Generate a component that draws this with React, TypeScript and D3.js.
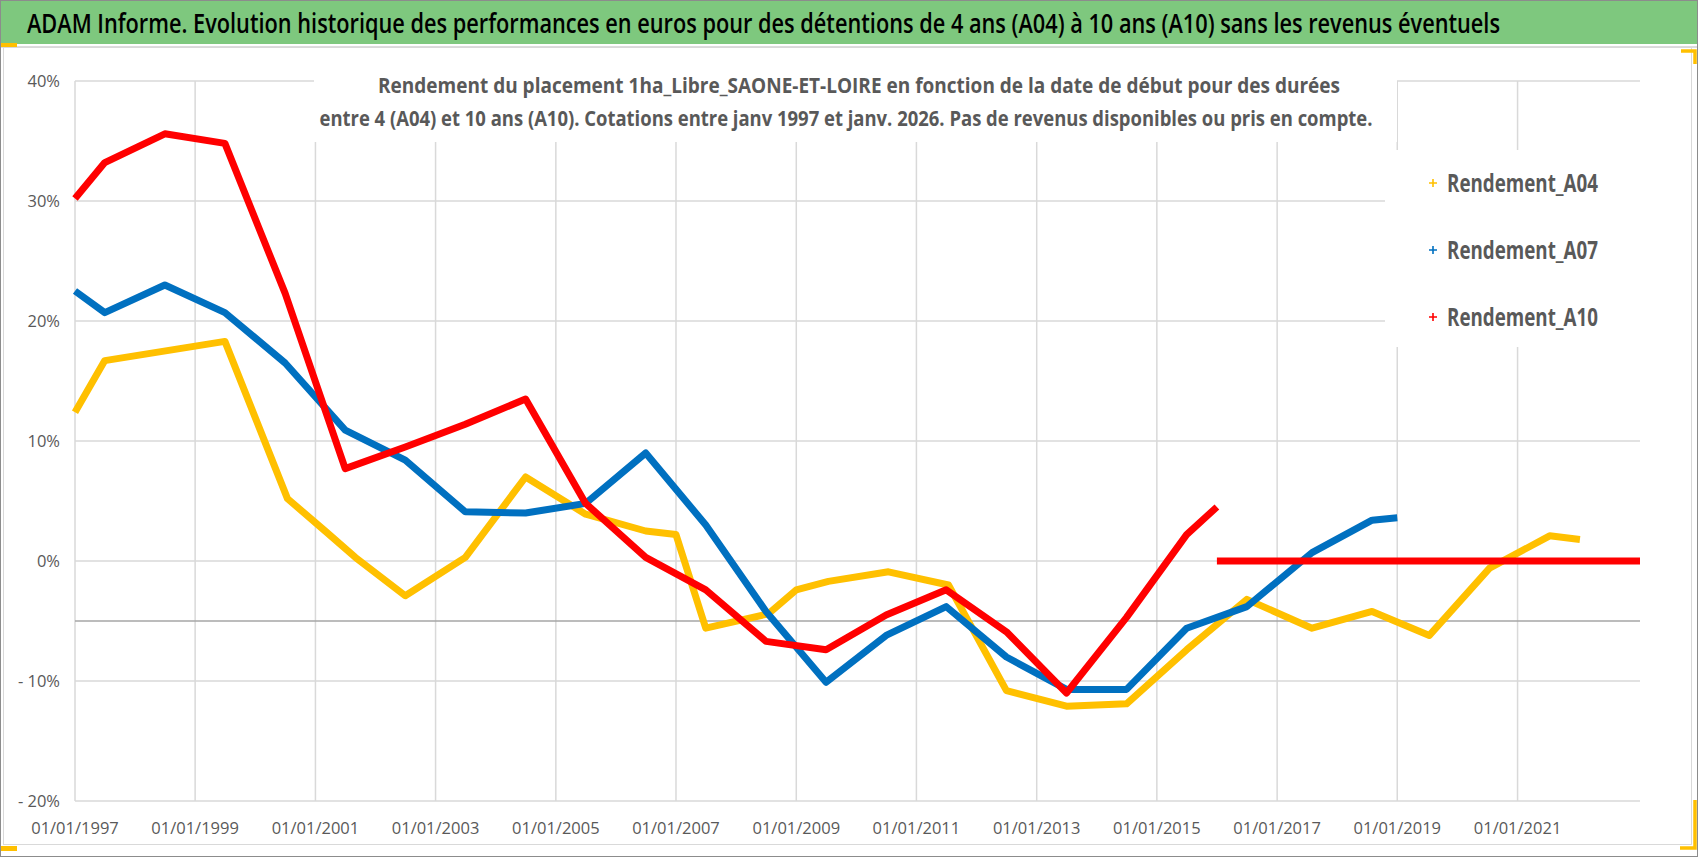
import * as d3 from 'd3'

// dates (start of holding) and yields in %
const a04Dates = ['1997-01-01', '1997-07-01', '1999-07-01', '2000-07-15', '2001-03-01', '2001-09-01', '2002-07-01', '2003-07-01', '2004-07-01', '2005-07-01', '2006-07-01', '2007-01-01', '2007-07-01', '2008-07-15', '2009-01-01', '2009-07-15', '2010-07-15', '2011-07-15', '2012-07-01', '2013-07-01', '2014-07-01', '2015-07-01', '2016-07-01', '2017-08-01', '2018-08-01', '2019-07-15', '2020-07-15', '2021-07-15', '2022-01-15']
const a04Values = [12.4, 16.7, 18.3, 5.2, 2.5, 0.3, -2.9, 0.3, 7.0, 3.9, 2.5, 2.2, -5.6, -4.4, -2.4, -1.7, -0.9, -2.0, -10.8, -12.1, -11.9, -7.4, -3.2, -5.6, -4.2, -6.2, -0.6, 2.1, 1.8]

const a07Dates = ['1997-01-01', '1997-07-01', '1998-07-01', '1999-07-01', '2000-07-01', '2001-07-01', '2002-07-01', '2003-07-01', '2004-07-01', '2005-07-01', '2006-07-01', '2007-07-01', '2008-07-01', '2009-07-01', '2010-07-01', '2011-07-01', '2012-07-01', '2013-07-01', '2014-07-01', '2015-07-01', '2016-07-01', '2017-08-01', '2018-08-01', '2019-01-01']
const a07Values = [22.5, 20.7, 23.0, 20.7, 16.5, 10.9, 8.4, 4.1, 4.0, 4.8, 9.0, 3.0, -4.2, -10.1, -6.2, -3.8, -8.0, -10.7, -10.7, -5.6, -3.8, 0.7, 3.4, 3.6]

const a10Dates = ['1997-01-01', '1997-07-01', '1998-07-01', '1999-07-01', '2000-07-01', '2001-07-01', '2002-07-01', '2003-07-01', '2004-07-01', '2005-07-01', '2006-07-01', '2007-07-01', '2008-07-01', '2009-07-01', '2010-07-01', '2011-07-01', '2012-07-01', '2013-07-01', '2014-07-01', '2015-07-01', '2016-01-01']
const a10Values = [30.2, 33.2, 35.6, 34.8, 22.3, 7.7, 9.5, 11.4, 13.5, 4.8, 0.3, -2.4, -6.7, -7.4, -4.5, -2.4, -5.9, -11.0, -4.7, 2.2, 4.5]
// A10 has no computed yield after 2016: plotted flat at 0
const a10FlatDates = ['2016-01-01', '2023-01-15']
const a10FlatValues = [0, 0]

const yTicks = [-20, -10, 0, 10, 20, 30, 40]
const xTickYears = [1997, 1999, 2001, 2003, 2005, 2007, 2009, 2011, 2013, 2015, 2017, 2019, 2021]
const refLine = -5

const seriesNames = ['Rendement_A04', 'Rendement_A07', 'Rendement_A10']
const colors = ['#FFC000', '#0070C0', '#FF0000']

const title = 'ADAM Informe. Evolution historique des performances en euros pour des détentions de 4 ans (A04) à 10 ans (A10) sans les revenus éventuels'
const subtitle1 = 'Rendement du placement 1ha_Libre_SAONE-ET-LOIRE en fonction de la date de début pour des durées'
const subtitle2 = 'entre 4 (A04) et 10 ans (A10).  Cotations entre janv 1997 et janv. 2026. Pas de revenus disponibles ou pris en compte.'

interface Pt {
  d: Date
  v: number
}
const parse = d3.timeParse('%Y-%m-%d')
const toPts = (dates: string[], vals: number[]): Pt[] =>
  dates.map((s, i) => ({ d: parse(s) as Date, v: vals[i] }))

const W = 1698
const H = 857
const font = "'Open Sans', 'Noto Sans', sans-serif"

const App = () => {
  const x = d3
    .scaleTime()
    .domain([new Date(1997, 0, 1), new Date(2023, 0, 15)])
    .range([75, 1640])
  const y = d3.scaleLinear().domain([-20, 40]).range([801, 81])

  const line = d3
    .line<Pt>()
    .x((p) => x(p.d))
    .y((p) => y(p.v))

  const series = [
    [toPts(a04Dates, a04Values)],
    [toPts(a07Dates, a07Values)],
    [toPts(a10Dates, a10Values), toPts(a10FlatDates, a10FlatValues)],
  ]

  const yFmt = (v: number) => (v < 0 ? `- ${Math.abs(v)}%` : `${v}%`)
  const [x0, x1] = x.range()

  return (
    <svg
      width={W}
      height={H}
      style={{ position: 'absolute', left: 0, top: 0, fontFamily: font }}
    >
      <rect x={0} y={0} width={W} height={H} fill="#fff" />
      {/* title band */}
      <rect x={1} y={1} width={W - 2} height={43} fill="#7EC87E" />
      <text x={27} y={33} fontSize={27} fontWeight={600} fill="#000" textLength={1473} lengthAdjust="spacingAndGlyphs">
        {title}
      </text>
      <line x1={1} x2={W - 1} y1={47} y2={47} stroke="#d0d0d0" strokeWidth={1.5} />
      {/* chart area border */}
      <rect x={3.5} y={47.5} width={1688} height={797} fill="none" stroke="#d9d9d9" />
      <rect x={0.5} y={0.5} width={W - 1} height={H - 1} fill="none" stroke="#8c8c8c" />

      {/* gridlines */}
      {yTicks.map((t) => (
        <line key={'h' + t} x1={x0} x2={x1} y1={y(t)} y2={y(t)} stroke="#d9d9d9" strokeWidth={1.5} />
      ))}
      {xTickYears.map((yr) => {
        const xx = x(new Date(yr, 0, 1))
        return <line key={'v' + yr} x1={xx} x2={xx} y1={y(40)} y2={y(-20)} stroke="#d9d9d9" strokeWidth={1.5} />
      })}
      <line x1={x0} x2={x1} y1={y(refLine)} y2={y(refLine)} stroke="#a6a6a6" strokeWidth={1.5} />

      {/* subtitle box */}
      <rect x={314} y={62} width={1083} height={80} fill="#fff" />
      <text x={859} y={93} fontSize={21} fontWeight="bold" fill="#595959" textAnchor="middle" textLength={962} lengthAdjust="spacingAndGlyphs">
        {subtitle1}
      </text>
      <text x={846} y={126} fontSize={21} fontWeight="bold" fill="#595959" textAnchor="middle" textLength={1053} lengthAdjust="spacingAndGlyphs">
        {subtitle2}
      </text>

      {/* axis labels */}
      {yTicks.map((t) => (
        <text key={'yl' + t} x={60} y={y(t) + 6} fontSize={16.5} fill="#595959" textAnchor="end">
          {yFmt(t)}
        </text>
      ))}
      {xTickYears.map((yr) => (
        <text key={'xl' + yr} x={x(new Date(yr, 0, 1))} y={834} fontSize={16.5} fill="#595959" textAnchor="middle">
          {d3.timeFormat('%d/%m/%Y')(new Date(yr, 0, 1))}
        </text>
      ))}

      {/* series */}
      {series.map((segs, i) =>
        segs.map((seg, j) => (
          <path
            key={`s${i}-${j}`}
            d={line(seg) ?? undefined}
            fill="none"
            stroke={colors[i]}
            strokeWidth={7}
            strokeLinejoin="round"
          />
        ))
      )}

      {/* legend */}
      <rect x={1385} y={150} width={255} height={197} fill="#fff" />
      {seriesNames.map((n, i) => {
        const ly = 183 + i * 67
        return (
          <g key={n}>
            <path d={`M${1429},${ly}h8M${1433},${ly - 4}v8`} stroke={colors[i]} strokeWidth={1.6} />
            <text x={1447} y={ly + 9} fontSize={25} fontWeight="bold" fill="#595959" textLength={151} lengthAdjust="spacingAndGlyphs">
              {n}
            </text>
          </g>
        )
      })}

      {/* selection handles */}
      <rect x={1} y={43} width={16} height={4} fill="#FFC000" />
      <rect x={1} y={846} width={16} height={5} fill="#FFC000" />
      <path d={`M${1681},${51}h14v13`} fill="none" stroke="#FFC000" strokeWidth={3.5} />
      <path d={`M${1695},${800}v48h-15`} fill="none" stroke="#FFC000" strokeWidth={3.5} />
    </svg>
  )
}

export default App
